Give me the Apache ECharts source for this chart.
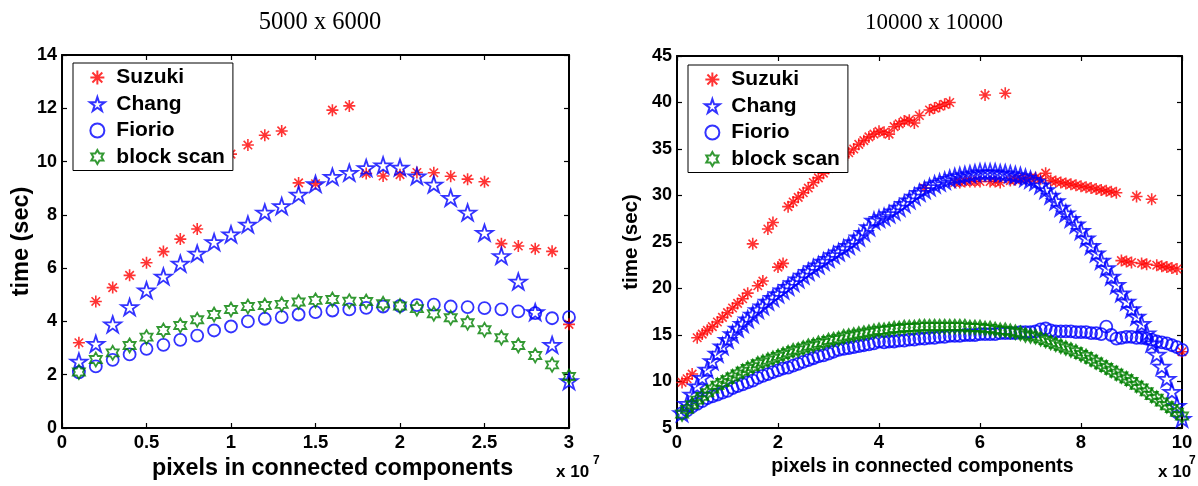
<!DOCTYPE html>
<html><head><meta charset="utf-8">
<script src="https://cdn.jsdelivr.net/npm/echarts@6/dist/echarts.min.js"></script>
<style>html,body{margin:0;padding:0;background:#fff}#c{width:1198px;height:486px}</style>
</head><body><div id="c"></div>
<script>
// ---- Left panel (5000 x 6000), x in units of 1e7 pixels ----
const leftX = [0.1,0.2,0.3,0.4,0.5,0.6,0.7,0.8,0.9,1.0,1.1,1.2,1.3,1.4,1.5,1.6,1.7,1.8,1.9,2.0,2.1,2.2,2.3,2.4,2.5,2.6,2.7,2.8,2.9,3.0];
const leftSuzuki = [3.2,4.75,5.27,5.73,6.2,6.62,7.09,7.47,9.9,10.28,10.62,10.99,11.15,9.2,9.17,11.93,12.09,9.55,9.46,9.51,9.59,9.58,9.45,9.34,9.24,6.92,6.83,6.73,6.63,3.89];
const leftChang = [2.5,3.16,3.89,4.54,5.17,5.69,6.17,6.55,6.98,7.27,7.64,8.09,8.33,8.76,9.16,9.43,9.58,9.76,9.86,9.78,9.45,9.14,8.64,8.09,7.33,6.46,5.5,4.35,3.12,1.76];
const leftFiorio = [2.09,2.31,2.56,2.76,2.97,3.12,3.31,3.47,3.66,3.81,4.0,4.1,4.16,4.26,4.35,4.41,4.45,4.51,4.56,4.58,4.61,4.63,4.56,4.54,4.5,4.45,4.38,4.31,4.12,4.16];
const leftBlock = [2.1,2.57,2.82,3.1,3.41,3.66,3.85,4.06,4.26,4.45,4.56,4.6,4.64,4.73,4.79,4.82,4.76,4.75,4.66,4.58,4.48,4.29,4.14,3.95,3.69,3.39,3.1,2.72,2.37,1.93];

// ---- Right panel (10000 x 10000) ----
const rightX = [0.1,0.2,0.3,0.4,0.5,0.6,0.7,0.8,0.9,1.0,
 1.1,1.2,1.3,1.4,1.5,1.6,1.7,1.8,1.9,2.0,
 2.1,2.2,2.3,2.4,2.5,2.6,2.7,2.8,2.9,3.0,
 3.1,3.2,3.3,3.4,3.5,3.6,3.7,3.8,3.9,4.0,
 4.1,4.2,4.3,4.4,4.5,4.6,4.7,4.8,4.9,5.0,
 5.1,5.2,5.3,5.4,5.5,5.6,5.7,5.8,5.9,6.0,
 6.1,6.2,6.3,6.4,6.5,6.6,6.7,6.8,6.9,7.0,
 7.1,7.2,7.3,7.4,7.5,7.6,7.7,7.8,7.9,8.0,
 8.1,8.2,8.3,8.4,8.5,8.6,8.7,8.8,8.9,9.0,
 9.1,9.2,9.3,9.4,9.5,9.6,9.7,9.8,9.9,10.0];
const rightSuzuki = [9.9,10.3,10.8,14.7,15.1,15.5,15.9,16.4,16.9,17.4,
 17.9,18.4,18.9,19.5,24.8,20.3,20.8,26.4,27.1,22.3,
 22.7,28.8,29.3,29.8,30.3,30.8,31.4,31.9,32.4,32.9,
 33.4,33.8,34.2,34.6,35.0,35.5,35.9,36.3,36.6,36.9,
 36.8,36.6,37.4,37.7,38.0,38.1,37.8,38.6,30.8,39.2,
 39.4,39.6,39.8,40.0,31.4,31.4,31.5,31.5,31.5,31.5,
 40.8,31.5,31.5,31.4,41.0,31.6,31.7,31.8,31.8,31.9,
 31.9,31.8,32.4,31.6,31.5,31.4,31.3,31.2,31.1,31.0,
 30.9,30.8,30.7,30.6,30.5,30.4,30.3,23.0,22.9,22.8,
 29.9,22.7,22.6,29.6,22.5,22.4,22.3,22.2,22.1,13.2];
const rightChang = [6.6,7.6,8.6,9.5,10.4,11.3,12.2,13.0,13.8,14.5,
 15.1,15.7,16.2,16.7,17.2,17.7,18.1,18.6,19.0,19.4,
 19.8,20.2,20.6,21.0,21.4,21.8,22.2,22.5,22.9,23.2,
 23.6,23.9,24.3,24.6,25.0,25.5,26.0,26.6,27.3,27.5,
 27.7,28.0,28.3,28.7,29.1,29.5,29.9,30.3,30.6,30.9,
 31.2,31.4,31.6,31.8,32.0,32.1,32.2,32.3,32.4,32.5,
 32.5,32.5,32.5,32.4,32.4,32.3,32.2,32.1,31.9,31.7,
 31.5,31.1,30.6,30.0,29.4,28.7,28.1,27.5,26.9,26.2,
 25.4,24.6,23.8,23.0,22.2,21.3,20.4,19.5,18.6,17.8,
 17.0,16.2,15.2,14.1,12.9,11.6,10.3,8.9,7.4,6.0];
const rightFiorio = [6.6,6.9,7.3,7.6,7.9,8.2,8.4,8.6,8.8,9.0,
 9.3,9.5,9.7,9.9,10.1,10.4,10.6,10.8,11.0,11.2,
 11.4,11.5,11.7,11.9,12.1,12.3,12.5,12.7,12.8,13.0,
 13.2,13.4,13.5,13.6,13.7,13.8,13.9,14.0,14.1,14.3,
 14.2,14.3,14.3,14.4,14.4,14.5,14.5,14.6,14.6,14.7,
 14.7,14.8,14.8,14.9,14.9,14.9,15.0,15.0,15.0,15.1,
 15.1,15.1,15.1,15.2,15.2,15.2,15.2,15.3,15.3,15.3,
 15.4,15.6,15.7,15.5,15.4,15.4,15.4,15.4,15.3,15.3,
 15.3,15.2,15.2,15.1,15.9,15.0,14.6,14.7,14.8,14.8,
 14.7,14.7,14.6,14.5,14.3,14.2,14.1,13.9,13.7,13.4];
const rightBlock = [6.5,7.0,7.5,8.0,8.4,8.8,9.2,9.6,9.9,10.2,
 10.5,10.8,11.1,11.4,11.6,11.9,12.1,12.3,12.5,12.7,
 12.9,13.1,13.3,13.4,13.6,13.8,13.9,14.1,14.2,14.4,
 14.5,14.6,14.8,14.9,15.0,15.1,15.2,15.3,15.4,15.5,
 15.5,15.6,15.7,15.7,15.8,15.8,15.8,15.9,15.9,15.9,
 15.9,15.9,15.9,15.9,15.9,15.9,15.9,15.8,15.8,15.8,
 15.7,15.7,15.6,15.5,15.5,15.4,15.3,15.2,15.0,14.9,
 14.8,14.6,14.4,14.2,14.0,13.8,13.6,13.4,13.2,12.9,
 12.7,12.4,12.1,11.8,11.5,11.2,10.9,10.6,10.3,10.0,
 9.6,9.3,8.9,8.5,8.2,7.8,7.4,7.1,6.7,6.3];

const seriesNames = ['Suzuki','Chang','Fiorio','block scan'];
const leftYTicks = {min:0, max:14, interval:2};
const rightYTicks = {min:5, max:45, interval:5};
const leftXTicks = {min:0, max:3, interval:0.5};
const rightXTicks = {min:0, max:10, interval:2};

const ASTERISK = 'path://M0,-1L0,1M-1,0L1,0M-0.7071,-0.7071L0.7071,0.7071M-0.7071,0.7071L0.7071,-0.7071';
const PENTAGRAM = 'path://M0,-1L0.2245,-0.309L0.9511,-0.309L0.3633,0.118L0.5878,0.809L0,0.382L-0.5878,0.809L-0.3633,0.118L-0.9511,-0.309L-0.2245,-0.309Z';
const HEXAGRAM = 'path://M0,-1L0.2887,-0.5L0.866,-0.5L0.5774,0L0.866,0.5L0.2887,0.5L0,1L-0.2887,0.5L-0.866,0.5L-0.5774,0L-0.866,-0.5L-0.2887,-0.5Z';

const styles = [
  {symbol: ASTERISK, size: 12, color: '#ff0000', bw: 1.6},
  {symbol: PENTAGRAM, size: [17,16], color: '#0000ff', bw: 1.8},
  {symbol: 'circle', size: 12, color: '#0000ff', bw: 1.8},
  {symbol: HEXAGRAM, size: [12,14], color: '#008000', bw: 1.8}
];

function pairs(xs, ys){ return xs.map((x,i)=>[x, ys[i]]); }

const boldFont = 'Liberation Sans';
function mkSeries(gi, xs, arrs){
  return arrs.map((ys, k) => ({
    type: 'scatter', name: seriesNames[k], xAxisIndex: gi*2, yAxisIndex: gi*2,
    symbol: styles[k].symbol, symbolSize: styles[k].size,
    itemStyle: {color: 'transparent', borderColor: styles[k].color, borderWidth: styles[k].bw},
    data: pairs(xs, ys), silent: true
  }));
}

function axisCommon(gi, t){
  return {gridIndex: gi, type: 'value', min: t.min, max: t.max, interval: t.interval,
    splitLine: {show:false}, axisLine: {onZero: false, lineStyle: {color:'#000', width: 2}},
    axisTick: {inside: true, length: 5, lineStyle: {color:'#000', width: 1.2}}};
}
function xAxes(gi, t, fs, gap, pad){
  const common = axisCommon(gi, t);
  return [
    Object.assign({}, common, {position: 'bottom',
      axisLabel: {color:'#000', fontFamily: boldFont, fontWeight: 'bold', fontSize: 18.5, margin: 5,
        showMinLabel: true, showMaxLabel: true},
      name: 'pixels in connected components', nameLocation: 'middle', nameGap: gap,
      nameTextStyle: {color:'#000', fontFamily: boldFont, fontWeight: 'bold', fontSize: fs, padding: pad}}),
    Object.assign({}, common, {position: 'top', axisLabel: {show:false}})
  ];
}
function yAxes(gi, t, fs, gap){
  const common = axisCommon(gi, t);
  return [
    Object.assign({}, common, {position: 'left',
      axisLabel: {color:'#000', fontFamily: boldFont, fontWeight: 'bold', fontSize: 18, margin: 5},
      name: 'time (sec)', nameLocation: 'middle', nameGap: gap,
      nameTextStyle: {color:'#000', fontFamily: boldFont, fontWeight: 'bold', fontSize: fs}}),
    Object.assign({}, common, {position: 'right', axisLabel: {show:false}})
  ];
}
function mkLegend(left, top){
  return {
    left: left, top: top, orient: 'vertical', selectedMode: false,
    data: seriesNames, backgroundColor: '#fff', borderColor: '#000', borderWidth: 1,
    padding: [4, 8, 3, 16], itemWidth: 28, itemHeight: 14, itemGap: 5.5,
    textStyle: {color:'#000', fontFamily: boldFont, fontWeight: 'bold', fontSize: 21, lineHeight: 21},
    z: 10
  };
}

const chart = echarts.init(document.getElementById('c'), null, {renderer: 'canvas'});
chart.setOption({
  animation: false,
  backgroundColor: '#fff',
  title: [
    {text: '5000 x 6000', left: 315, top: 5, textAlign: 'center',
     textStyle: {fontFamily: 'Liberation Serif', fontWeight: 'normal', fontSize: 24.5, color: '#000'}},
    {text: '10000 x 10000', left: 929, top: 6, textAlign: 'center',
     textStyle: {fontFamily: 'Liberation Serif', fontWeight: 'normal', fontSize: 23, color: '#000'}}
  ],
  grid: [
    {left: 62, top: 55, width: 507, height: 373},
    {left: 677, top: 56, width: 505, height: 372}
  ],
  xAxis: xAxes(0, leftXTicks, 23.3, 25, [0,0,0,34]).concat(xAxes(1, rightXTicks, 19.5, 27, [0,14,0,0])),
  yAxis: yAxes(0, leftYTicks, 23.5, 28).concat(yAxes(1, rightYTicks, 20.5, 35)),
  legend: [mkLegend(73, 63), mkLegend(688, 65)],
  series: mkSeries(0, leftX, [leftSuzuki, leftChang, leftFiorio, leftBlock])
    .concat(mkSeries(1, rightX, [rightSuzuki, rightChang, rightFiorio, rightBlock])),
  graphic: [
    {type: 'text', left: 556, top: 464, style: {text: 'x 10', fill: '#000', font: 'bold 17px "Liberation Sans"'}},
    {type: 'text', left: 593, top: 455, style: {text: '7', fill: '#000', font: 'bold 12px "Liberation Sans"'}},
    {type: 'text', left: 1158, top: 464, style: {text: 'x 10', fill: '#000', font: 'bold 17px "Liberation Sans"'}},
    {type: 'text', left: 1189, top: 455, style: {text: '7', fill: '#000', font: 'bold 12px "Liberation Sans"'}}
  ]
});
</script>
</body></html>
